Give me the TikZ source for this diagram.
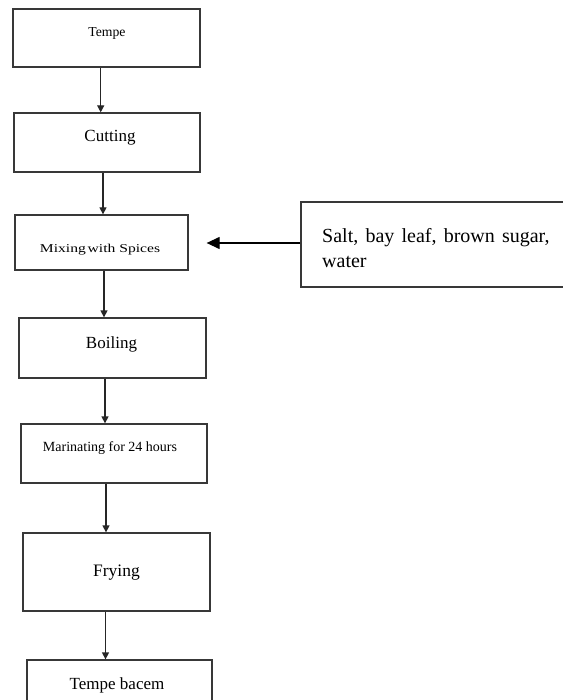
\documentclass[tikz,border=0pt]{standalone}
\usepackage{fontspec}
\usepackage{graphicx}
\setmainfont{Liberation Serif}
\usetikzlibrary{arrows.meta}
\tikzset{
  box/.style={draw=black!78, line width=1.3pt, rectangle, inner sep=0pt, fill=none},
  txt/.style={inner sep=0pt, text=black},
  arr/.style={draw=black!85, line width=1.3pt, -{Triangle[length=7pt,width=7pt]}},
  bigarr/.style={draw=black, line width=1.3pt, -{Triangle[length=13pt,width=12pt]}},
}
\begin{document}
\begin{tikzpicture}[x=1pt,y=-1pt]
\useasboundingbox (0,0) rectangle (562,700);
\fill[white] (0,0) rectangle (562,700);
% boxes
\node[box, minimum width=187pt, minimum height=58pt] (tempe) at (106.5,38) {};
\node[box, minimum width=186pt, minimum height=59pt] (cut) at (107,142.5) {};
\node[box, minimum width=173pt, minimum height=55pt] (mix) at (101.5,242.5) {};
\node[box, minimum width=187pt, minimum height=60pt] (boil) at (112.5,348) {};
\node[box, minimum width=186pt, minimum height=59pt] (mar) at (114,453.5) {};
\node[box, minimum width=187pt, minimum height=78pt] (fry) at (116.5,572) {};
\node[box, minimum width=185pt, minimum height=60pt] (bacem) at (119.5,690) {};
\node[box, minimum width=279pt, minimum height=85pt] (spice) at (440.5,244.5) {};
% texts
\node[txt, font=\fontsize{13.7}{16}\selectfont] (tempe-t) at (107,33) {Tempe};
\node[txt, font=\fontsize{17}{20}\selectfont] (cut-t) at (110,138) {Cutting};
\node[txt] (mix-t) at (100,250) {\scalebox{1.3}[1]{\fontsize{12}{14}\selectfont Mixing\hspace{0.12em}with Spices}};
\node[txt, font=\fontsize{17}{20}\selectfont] (boil-t) at (111.5,344) {Boiling};
\node[txt, font=\fontsize{14}{16}\selectfont] (mar-t) at (110,448) {Marinating for 24 hours};
\node[txt, font=\fontsize{17.5}{20}\selectfont] (fry-t) at (116.5,573) {Frying};
\node[txt, font=\fontsize{17}{20}\selectfont] (bacem-t) at (117,685) {Tempe bacem};
\node[txt, anchor=north west, align=left, font=\fontsize{20}{25}\selectfont] (spice-t) at (322,228)
  {Salt,\hspace{0.36em}bay\hspace{0.36em}leaf,\hspace{0.36em}brown\hspace{0.36em}sugar,\\water};
% connectors
\coordinate (x1) at (100.7,0);
\coordinate (x2) at (103,0);
\coordinate (x3) at (104,0);
\coordinate (x4) at (105,0);
\coordinate (x5) at (106,0);
\coordinate (x6) at (105.5,0);
\draw[arr] (tempe.south -| x1) -- (cut.north -| x1);
\draw[arr] (cut.south -| x2) -- (mix.north -| x2);
\draw[arr] (mix.south -| x3) -- (boil.north -| x3);
\draw[arr] (boil.south -| x4) -- (mar.north -| x4);
\draw[arr] (mar.south -| x5) -- (fry.north -| x5);
\draw[arr] (fry.south -| x6) -- (bacem.north -| x6);
\coordinate (ya) at (0,243);
\draw[bigarr] (spice.west |- ya) -- ([xshift=18pt]mix.east |- ya);
\end{tikzpicture}
\end{document}
